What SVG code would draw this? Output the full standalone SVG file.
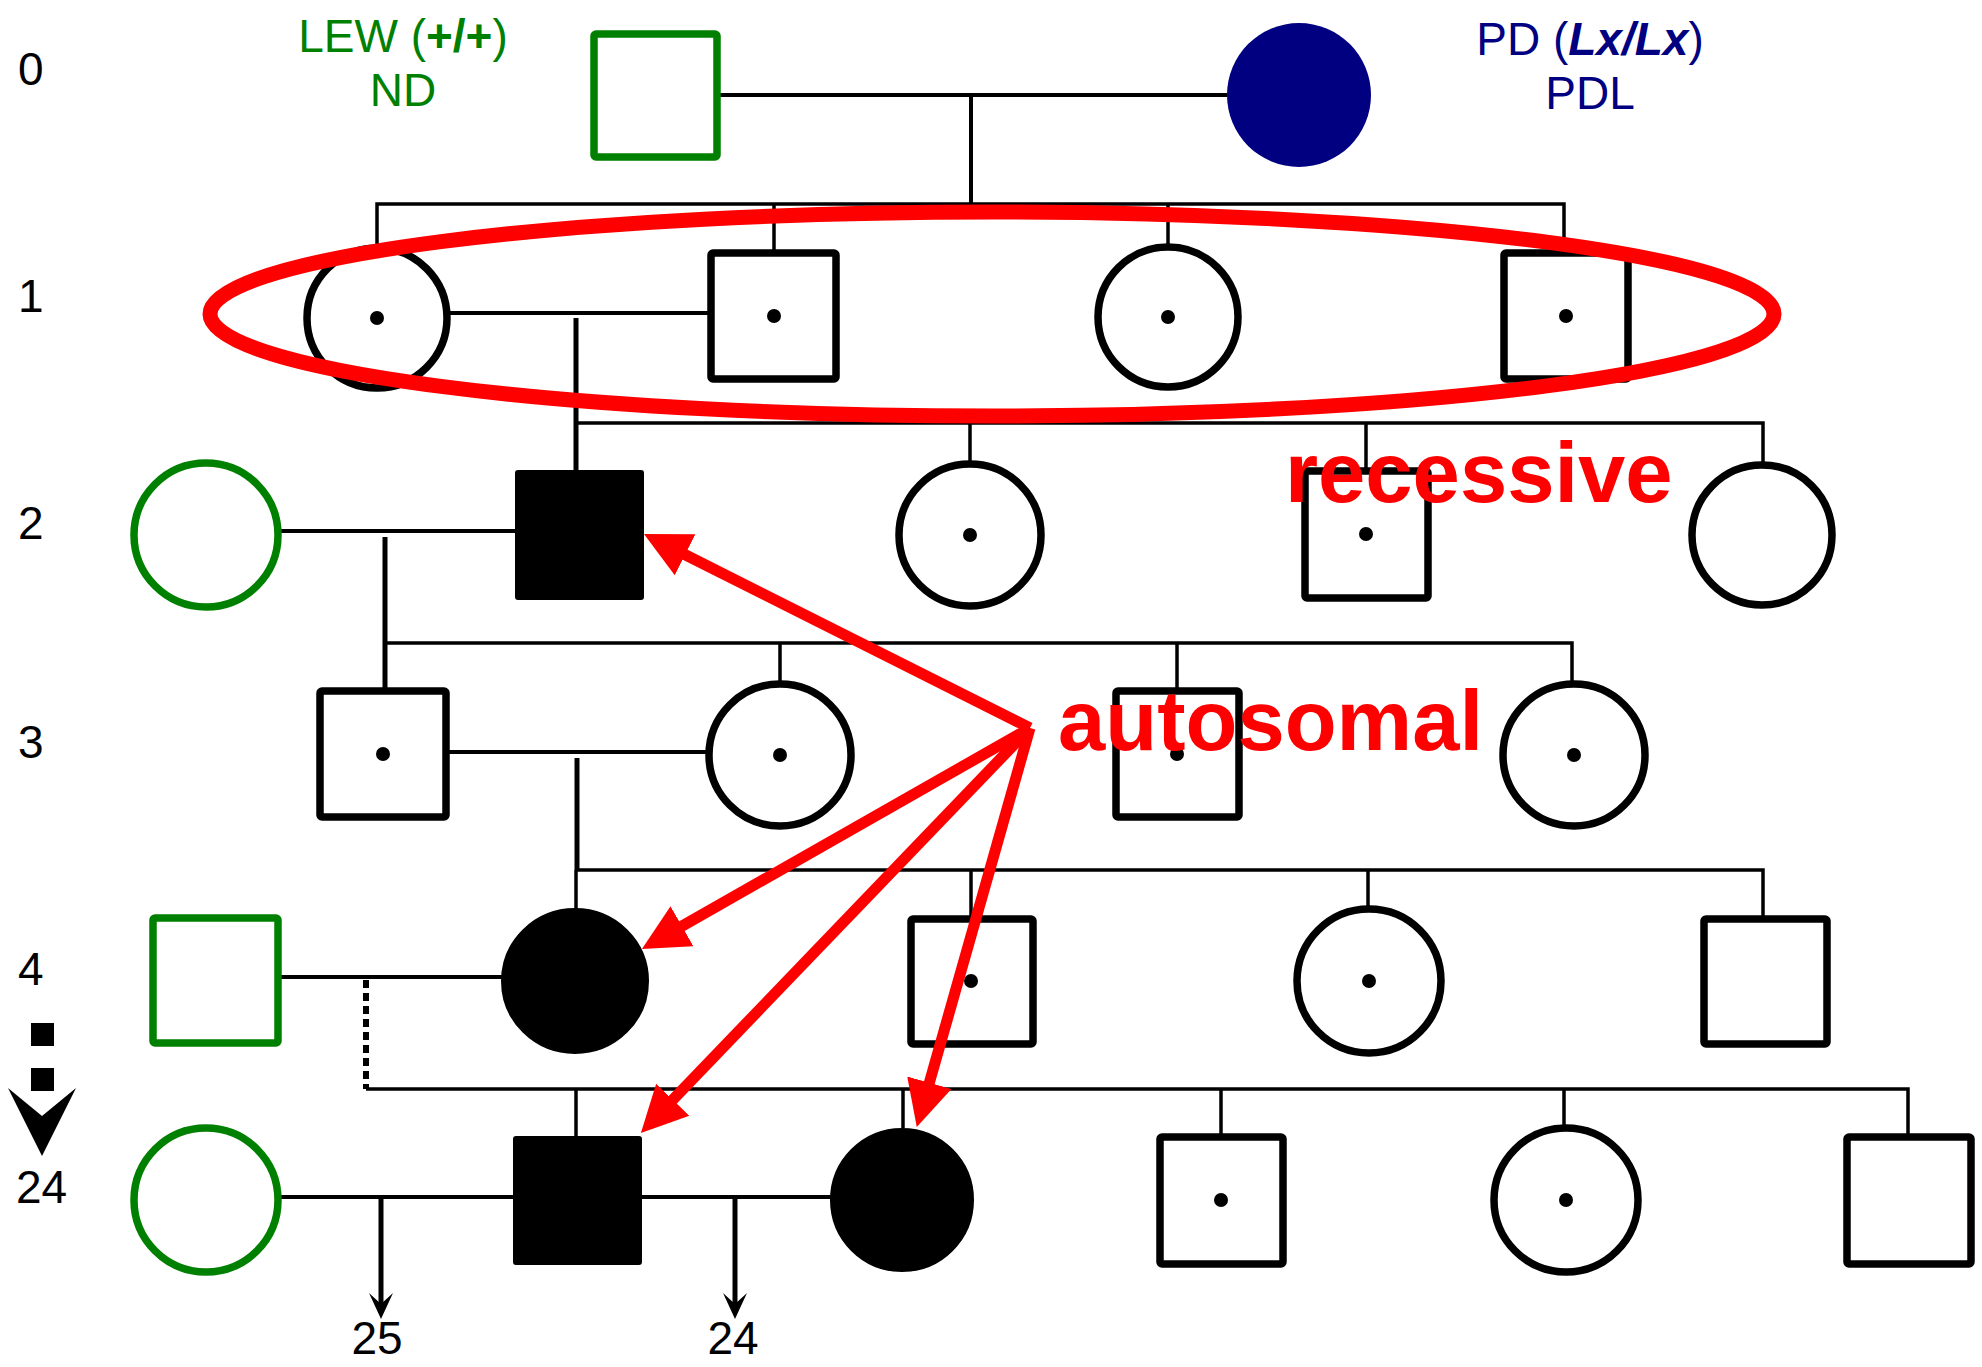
<svg xmlns="http://www.w3.org/2000/svg" width="1982" height="1367" viewBox="0 0 1982 1367">
<defs>
<style>
.t{font-family:"Liberation Sans",Arial,sans-serif;font-size:46px}
.ln{stroke:#000;stroke-width:3.5;fill:none}
.lm{stroke:#000;stroke-width:4;fill:none}
.ld{stroke:#000;stroke-width:5;fill:none}
.n{stroke:#000;stroke-width:7.5;fill:#fff}
.g{stroke:#008000;stroke-width:7.5;fill:#fff}
.f{stroke:#000;stroke-width:2;fill:#000}
.dot{fill:#000}
.red{font-family:"Liberation Sans",Arial,sans-serif;font-size:85px;font-weight:bold;fill:#f00}
.ar{stroke:#f00;stroke-width:11;fill:none;marker-end:url(#rh)}
</style>
<marker id="rh" viewBox="0 0 48 48" markerWidth="48" markerHeight="48" refX="6" refY="24" orient="auto" markerUnits="userSpaceOnUse">
<path d="M0,1 L46,24 L0,47 z" fill="#f00"/>
</marker>
</defs>
<rect width="1982" height="1367" fill="#fff"/>

<g id="generation-labels" class="t">
<text x="18" y="85">0</text>
<text x="18" y="312">1</text>
<text x="18" y="539">2</text>
<text x="18" y="758">3</text>
<text x="18" y="985">4</text>
<rect x="31" y="1023" width="23" height="23" fill="#000"/>
<rect x="31" y="1068" width="23" height="23" fill="#000"/>
<polygon points="8,1088 42,1156 76,1088 42,1116" fill="#000"/>
<text x="16" y="1203">24</text>
</g>

<g id="strain-labels" class="t">
<text x="403" y="52" text-anchor="middle" fill="#008000">LEW (<tspan font-weight="bold">+/+</tspan>)</text>
<text x="403" y="106" text-anchor="middle" fill="#008000">ND</text>
<text x="1590" y="55" text-anchor="middle" fill="#000080">PD (<tspan font-weight="bold" font-style="italic">Lx/Lx</tspan>)</text>
<text x="1590" y="109" text-anchor="middle" fill="#000080">PDL</text>
</g>

<g id="connectors">
<line class="lm" x1="717" y1="95" x2="1227" y2="95"/>
<line class="lm" x1="971" y1="95" x2="971" y2="204"/>
<polyline class="ln" points="377,250 377,204 1564,204 1564,253"/>
<line class="ln" x1="774" y1="204" x2="774" y2="253"/>
<line class="ln" x1="1168" y1="204" x2="1168" y2="250"/>
<line class="lm" x1="447" y1="313" x2="711" y2="313"/>
<line class="ld" x1="576" y1="318" x2="576" y2="471"/>
<polyline class="ln" points="576,423 1763,423 1763,465"/>
<line class="ln" x1="970" y1="423" x2="970" y2="464"/>
<line class="ln" x1="1366" y1="423" x2="1366" y2="471"/>
<line class="lm" x1="278" y1="531" x2="516" y2="531"/>
<line class="ld" x1="385" y1="537" x2="385" y2="691"/>
<polyline class="ln" points="385,643 1572,643 1572,684"/>
<line class="ln" x1="780" y1="643" x2="780" y2="684"/>
<line class="ln" x1="1177" y1="643" x2="1177" y2="691"/>
<line class="lm" x1="446" y1="752" x2="710" y2="752"/>
<line class="ld" x1="577" y1="758" x2="577" y2="870"/>
<polyline class="ln" points="576,870 1763,870 1763,919"/>
<line class="ln" x1="576" y1="870" x2="576" y2="909"/>
<line class="ln" x1="971" y1="870" x2="971" y2="919"/>
<line class="ln" x1="1368" y1="870" x2="1368" y2="910"/>
<line class="lm" x1="278" y1="977" x2="502" y2="977"/>
<line x1="366" y1="980" x2="366" y2="1089" stroke="#000" stroke-width="6" stroke-dasharray="8,5"/>
<polyline class="ln" points="366,1089 1908,1089 1908,1137"/>
<line class="ln" x1="576" y1="1089" x2="576" y2="1137"/>
<line class="ln" x1="903" y1="1089" x2="903" y2="1128"/>
<line class="ln" x1="1221" y1="1089" x2="1221" y2="1137"/>
<line class="ln" x1="1564" y1="1089" x2="1564" y2="1129"/>
<line class="lm" x1="278" y1="1197" x2="514" y2="1197"/>
<line class="lm" x1="641" y1="1197" x2="831" y2="1197"/>
<line class="ld" x1="381" y1="1197" x2="381" y2="1305"/>
<polygon points="369,1293 381,1319 393,1293 381,1304" fill="#000"/>
<line class="ld" x1="735" y1="1197" x2="735" y2="1305"/>
<polygon points="723,1293 735,1319 747,1293 735,1304" fill="#000"/>
</g>

<g id="gen-labels-bottom" class="t">
<text x="377" y="1354" text-anchor="middle">25</text>
<text x="733" y="1354" text-anchor="middle">24</text>
</g>

<g id="g0-lew-male"><rect class="g" x="594" y="34" width="123" height="123" rx="2"/></g>
<g id="g0-pd-female"><circle cx="1299" cy="95" r="72" fill="#000080"/></g>

<g id="g1-female-1"><circle class="n" cx="377" cy="318" r="70"/><circle class="dot" cx="377" cy="318" r="7"/></g>
<g id="g1-male-1"><rect class="n" x="711" y="253" width="125" height="126" rx="2"/><circle class="dot" cx="774" cy="316" r="7"/></g>
<g id="g1-female-2"><circle class="n" cx="1168" cy="317" r="70"/><circle class="dot" cx="1168" cy="317" r="7"/></g>
<g id="g1-male-2"><rect class="n" x="1504" y="253" width="124" height="126" rx="2"/><circle class="dot" cx="1566" cy="316" r="7"/></g>

<g id="g2-lew-female"><circle class="g" cx="206" cy="535" r="72"/></g>
<g id="g2-affected-male"><rect class="f" x="516" y="471" width="127" height="128" rx="2"/></g>
<g id="g2-female-1"><circle class="n" cx="970" cy="535" r="71"/><circle class="dot" cx="970" cy="535" r="7"/></g>
<g id="g2-male-1"><rect class="n" x="1305" y="471" width="123" height="127" rx="2"/><circle class="dot" cx="1366" cy="534" r="7"/></g>
<g id="g2-female-2"><circle class="n" cx="1762" cy="535" r="70"/></g>

<g id="g3-male-1"><rect class="n" x="320" y="691" width="126" height="126" rx="2"/><circle class="dot" cx="383" cy="754" r="7"/></g>
<g id="g3-female-1"><circle class="n" cx="780" cy="755" r="71"/><circle class="dot" cx="780" cy="755" r="7"/></g>
<g id="g3-male-2"><rect class="n" x="1116" y="691" width="123" height="126" rx="2"/><circle class="dot" cx="1177" cy="754" r="7"/></g>
<g id="g3-female-2"><circle class="n" cx="1574" cy="755" r="71"/><circle class="dot" cx="1574" cy="755" r="7"/></g>

<g id="g4-lew-male"><rect class="g" x="153" y="918" width="125" height="125" rx="2"/></g>
<g id="g4-affected-female"><ellipse class="f" cx="575" cy="981" rx="73" ry="72"/></g>
<g id="g4-male-1"><rect class="n" x="911" y="919" width="122" height="125" rx="2"/><circle class="dot" cx="971" cy="981" r="7"/></g>
<g id="g4-female-1"><circle class="n" cx="1369" cy="981" r="72"/><circle class="dot" cx="1369" cy="981" r="7"/></g>
<g id="g4-male-2"><rect class="n" x="1704" y="919" width="123" height="125" rx="2"/></g>

<g id="g24-lew-female"><circle class="g" cx="206" cy="1200" r="72"/></g>
<g id="g24-affected-male"><rect class="f" x="514" y="1137" width="127" height="127" rx="2"/></g>
<g id="g24-affected-female"><circle class="f" cx="902" cy="1200" r="71"/></g>
<g id="g24-male-1"><rect class="n" x="1160" y="1137" width="123" height="127" rx="2"/><circle class="dot" cx="1221" cy="1200" r="7"/></g>
<g id="g24-female-1"><circle class="n" cx="1566" cy="1200" r="72"/><circle class="dot" cx="1566" cy="1200" r="7"/></g>
<g id="g24-male-2"><rect class="n" x="1847" y="1137" width="124" height="127" rx="2"/></g>

<g id="annotation-ellipse"><ellipse cx="992" cy="314" rx="782" ry="102" fill="none" stroke="#f00" stroke-width="15"/></g>
<g id="annotation-text">
<text class="red" x="1285" y="502">recessive</text>
<text class="red" x="1058" y="750">autosomal</text>
</g>
<g id="annotation-arrows">
<line class="ar" x1="1030" y1="728" x2="679.7" y2="552"/>
<line class="ar" x1="1030" y1="728" x2="676.7" y2="929.1"/>
<line class="ar" x1="1030" y1="728" x2="668.6" y2="1104.1"/>
<line class="ar" x1="1030" y1="728" x2="927.7" y2="1088.5"/>
</g>
</svg>
